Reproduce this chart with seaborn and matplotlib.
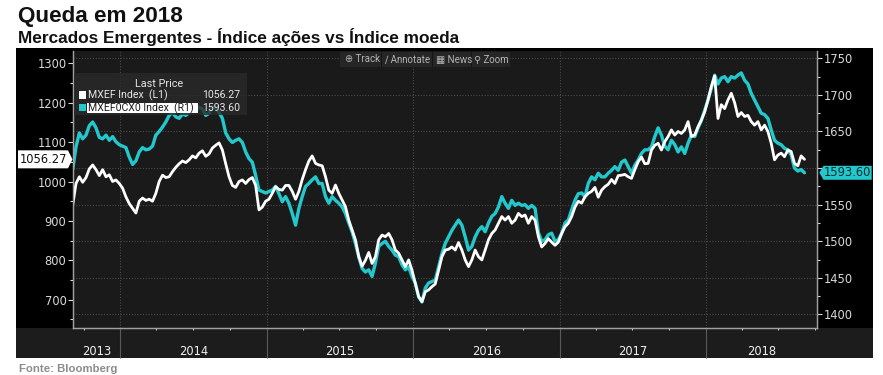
import pandas as pd
import numpy as np
import matplotlib.pyplot as plt
import matplotlib.dates as mdates
import matplotlib.ticker as mticker
import matplotlib.transforms as mtransforms
from matplotlib.patches import Rectangle, Polygon
import seaborn as sns

# MXEF Index (left axis), weekly-ish, Sep 2013 -> Sep 2018
mxef = [940, 995, 1012, 998, 1010, 1032, 1042, 1030, 1015, 1030,
        1012, 1017, 1000, 1004, 995, 983, 961, 944, 932, 920,
        950, 958, 952, 955, 950, 970, 1000, 1016, 1010, 1012,
        1025, 1036, 1045, 1052, 1048, 1055, 1065, 1060, 1072, 1078,
        1064, 1070, 1085, 1092, 1098, 1080, 1045, 1012, 990, 985,
        1000, 1004, 995, 1005, 1010, 990,
        928, 935, 950, 955, 970, 987, 980, 978, 990, 990,
        975, 955, 975, 1005, 1030, 1052, 1065, 1046, 1042, 1040,
        1012, 978, 970, 991, 970, 953, 936, 902, 877, 852,
        809, 785, 800, 820, 792, 809, 852, 864, 860, 868,
        852, 826, 818, 801, 784, 801, 775, 742, 708, 695,
        720, 725, 733, 740, 775, 809, 826, 828, 834, 826,
        845, 826, 801, 784, 801, 826, 809, 801, 826, 852,
        868, 877, 894, 911, 902, 911, 894, 902, 919, 911,
        915, 894, 911, 902, 860, 834, 843, 855, 846, 838,
        846, 868, 885, 894, 911, 935, 950, 945, 961, 970,
        975, 985, 960, 978, 987, 993, 1005, 995, 1015, 1016,
        1018, 1012, 1008, 1030, 1050, 1062, 1045, 1046, 1080, 1092,
        1097, 1080, 1101, 1114, 1131, 1118, 1127, 1122, 1131, 1152,
        1114, 1118, 1139, 1156, 1177, 1207, 1241, 1268, 1160, 1195,
        1185, 1207, 1224, 1200, 1165, 1175, 1165, 1168, 1152, 1143,
        1152, 1131, 1143, 1127, 1097, 1055, 1067, 1072, 1063, 1080,
        1076, 1046, 1040, 1065, 1056.27]

# MXEF0CX0 Index (right axis)
mxef_fx = [1598, 1629, 1648, 1640, 1645, 1658, 1663, 1655, 1642, 1640,
           1645, 1638, 1643, 1636, 1632, 1630, 1628, 1615, 1605, 1610,
           1622, 1628, 1625, 1626, 1630, 1645, 1650, 1656, 1663, 1672,
           1676, 1670, 1668, 1674, 1672, 1676, 1682, 1680, 1683, 1681,
           1672, 1675, 1684, 1682, 1676, 1668, 1648, 1640, 1635, 1638,
           1640, 1635, 1622, 1613, 1608, 1590,
           1570, 1568, 1566, 1568, 1570, 1575, 1565, 1554, 1561, 1552,
           1538, 1522, 1545, 1561, 1575, 1579, 1584, 1588, 1579, 1579,
           1561, 1552, 1561, 1556, 1552, 1547, 1538, 1525, 1513, 1497,
           1479, 1463, 1458, 1461, 1452, 1470, 1493, 1497, 1500, 1493,
           1488, 1481, 1479, 1468, 1461, 1465, 1452, 1443, 1424, 1417,
           1436, 1443, 1445, 1447, 1465, 1483, 1497, 1506, 1515, 1522,
           1529, 1522, 1506, 1488, 1493, 1506, 1515, 1520, 1513, 1525,
           1534, 1538, 1547, 1561, 1552, 1545, 1556, 1549, 1552, 1549,
           1550, 1545, 1549, 1545, 1512, 1500, 1502, 1509, 1511, 1500,
           1502, 1511, 1525, 1529, 1543, 1556, 1565, 1566, 1561, 1579,
           1588, 1584, 1593, 1588, 1588, 1593, 1597, 1602, 1597, 1608,
           1611, 1602, 1593, 1604, 1611, 1620, 1625, 1625, 1629, 1643,
           1655, 1645, 1630, 1625, 1638, 1632, 1622, 1629, 1620, 1634,
           1645, 1643, 1655, 1665, 1679, 1693, 1709, 1727, 1715, 1723,
           1725, 1718, 1725, 1723, 1727, 1730, 1720, 1715, 1702, 1693,
           1684, 1675, 1673, 1668, 1652, 1638, 1634, 1632, 1627, 1625,
           1618, 1600, 1596, 1598, 1593.60]

years = [2013, 2014, 2015, 2016, 2017, 2018]
left_ticks = [700, 800, 900, 1000, 1100, 1200, 1300]
right_ticks = [1400, 1450, 1500, 1550, 1600, 1650, 1700, 1750]
right_labels = ['1400', '1450', '1500', '1550', '', '1650', '1700', '1750']

start, end = '2013-09-04', '2018-09-04'
df_l = pd.DataFrame({'date': pd.date_range(start, end, periods=len(mxef)), 'value': mxef})
df_r = pd.DataFrame({'date': pd.date_range(start, end, periods=len(mxef_fx)), 'value': mxef_fx})

sns.set_style("ticks")
plt.rcParams['font.family'] = ['DejaVu Sans']

CYAN = '#22c8cc'
GRID = '#4a4a4a'
TXT = '#e6e6e6'
NARROW = ['Roboto', 'DejaVu Sans']
W, H = 883, 375
fig = plt.figure(figsize=(W / 100, H / 100), dpi=100)
fig.patch.set_facecolor('white')


def fx(px):
    return px / W


def fy(py):
    return 1 - py / H


def box(x0, y0, x1, y1, color, z, alpha=1.0):
    fig.add_artist(Rectangle((fx(x0), fy(y1)), (x1 - x0) / W, (y1 - y0) / H,
                             transform=fig.transFigure, color=color, zorder=z,
                             alpha=alpha, lw=0))


# black terminal panel and the year band
box(16, 47.7, 872.7, 358.3, 'black', -2)
box(16, 328.3, 872.7, 358.3, '#1c1c1c', -1)

ax = fig.add_axes([fx(72.7), fy(328.3), (817.3 - 72.7) / W, (328.3 - 50.7) / H])
ax2 = ax.twinx()
ax2.patch.set_visible(True)
ax2.set_facecolor('#1a1a1a')
ax.set_zorder(ax2.get_zorder() + 1)
ax.patch.set_visible(False)

sns.lineplot(data=df_r, x='date', y='value', ax=ax2, color=CYAN, lw=2.4)
sns.lineplot(data=df_l, x='date', y='value', ax=ax, color='white', lw=2.0)

xmin, xmax = pd.Timestamp('2013-09-04'), pd.Timestamp('2018-10-06')
ax.set_xlim(xmin, xmax)
ax.set_ylim(627.4, 1332.0)
ax2.set_ylim(1381.1, 1760.4)
for a in (ax, ax2):
    a.set_xlabel('')
    a.set_ylabel('')
    a.spines['top'].set_visible(False)
    for s in ('left', 'right', 'bottom'):
        a.spines[s].set_color('#a0a0a0')
        a.spines[s].set_linewidth(0.9)

ax.set_yticks(left_ticks)
ax.yaxis.set_minor_locator(mticker.MultipleLocator(50))
ax.tick_params(axis='y', which='both', colors='#d8d8d8', labelsize=8.3, pad=1, width=0.8)
ax.tick_params(axis='y', which='major', length=3.5)
ax.tick_params(axis='y', which='minor', length=2)

ax2.set_yticks(right_ticks)
ax2.set_yticklabels(right_labels)
ax2.yaxis.set_minor_locator(mticker.MultipleLocator(25))
ax2.tick_params(axis='y', which='both', colors='#d8d8d8', labelsize=8.3, pad=1, width=0.8)
ax2.tick_params(axis='y', which='major', length=3.5)
ax2.tick_params(axis='y', which='minor', length=2)
ax2.grid(axis='y', which='major', color=GRID, ls=(0, (1, 1.5)), lw=0.8)

ax.xaxis.set_major_locator(mdates.YearLocator())
ax.xaxis.set_minor_locator(mdates.MonthLocator(bymonth=[1, 4, 7, 10]))
ax.xaxis.set_major_formatter(mticker.NullFormatter())
ax.tick_params(axis='x', which='major', length=21.6, color='#5a5a5a', width=0.8)
ax.tick_params(axis='x', which='minor', length=1.5, color='#cccccc', width=0.8)

# year gridlines and centred year labels in the band
blend = mtransforms.blended_transform_factory(ax.transData, ax.transAxes)
for y in years:
    y0 = max(xmin, pd.Timestamp(f'{y}-01-01'))
    y1 = min(xmax, pd.Timestamp(f'{y + 1}-01-01'))
    if y0 > xmin:
        ax2.axvline(y0, color=GRID, ls=(0, (1, 1.5)), lw=0.8, zorder=0.5)
    ax.text(y0 + (y1 - y0) / 2, -0.0818, str(y), transform=blend,
            ha='center', va='center', color='#f0f0f0', fontsize=8.3)

# legend box (Last Price)
box(73.5, 73, 246.7, 115, '#2a2a2a', 2, alpha=0.8)
fig.text(fx(159), fy(84), 'Last Price', ha='center', va='center', color=TXT,
         fontsize=7.8, family=NARROW, zorder=3)
box(79, 91.5, 86, 98.5, 'white', 3)
fig.text(fx(88), fy(95.5), 'MXEF Index  (L1)', ha='left', va='center', color=TXT,
         fontsize=7.6, family=NARROW, zorder=3)
fig.text(fx(240), fy(95.5), f'{mxef[-1]:.2f}', ha='right', va='center', color=TXT,
         fontsize=7.6, family=NARROW, zorder=3)
box(79, 104, 86, 111, CYAN, 3)
box(87, 102.7, 198, 112.7, 'white', 3)
fig.text(fx(88), fy(107.8), 'MXEF0CX0 Index  (R1)', ha='left', va='center', color='#1a1a1a',
         fontsize=7.6, family=NARROW, zorder=4)
fig.text(fx(240), fy(107.8), f'{mxef_fx[-1]:.2f}', ha='right', va='center', color=TXT,
         fontsize=7.6, family=NARROW, zorder=4)

# last value tags on both axes
last_date = mdates.date2num(df_l['date'].iloc[-1])
yl = H - ax.transData.transform((last_date, mxef[-1]))[1]
yr = H - ax2.transData.transform((last_date, mxef_fx[-1]))[1]
tag_l = [(18, yl - 9), (68, yl - 9), (72.5, yl), (68, yl + 9), (18, yl + 9)]
fig.add_artist(Polygon([(fx(a), fy(b)) for a, b in tag_l], closed=True, transform=fig.transFigure,
                       facecolor='white', edgecolor='none', zorder=3))
fig.text(fx(43.5), fy(yl), f'{mxef[-1]:.2f}', ha='center', va='center', color='#111111',
         fontsize=8.3, zorder=4)
tag_r = [(819.3, yr), (823.5, yr - 7), (871.7, yr - 7), (871.7, yr + 7), (823.5, yr + 7)]
fig.add_artist(Polygon([(fx(a), fy(b)) for a, b in tag_r], closed=True, transform=fig.transFigure,
                       facecolor=CYAN, edgecolor='none', zorder=3))
fig.text(fx(847.5), fy(yr), f'{mxef_fx[-1]:.2f}', ha='center', va='center', color='#0e2b2c',
         fontsize=8.3, zorder=4)

# toolbar
box(340, 51.7, 510, 66.7, '#262626', 2)
for xs in (380.5, 432, 470.5):
    box(xs, 51.7, xs + 1, 66.7, '#151515', 3)
for xt, label in [(345, '⊕ Track'), (385, '∕ Annotate'), (436, '▦ News'), (474, '⚲ Zoom')]:
    fig.text(fx(xt), fy(59.5), label, ha='left', va='center', color='#b5b5b5',
             fontsize=7, family=NARROW, zorder=4)

# titles and source
fig.text(fx(18), fy(21.7), 'Queda em 2018', family='Liberation Sans', weight='bold',
         fontsize=16.2, color='#111111', va='baseline')
fig.text(fx(18), fy(42.7), 'Mercados Emergentes - Índice ações vs Índice moeda',
         family='Liberation Sans', weight='bold', fontsize=12.4, color='#111111', va='baseline')
fig.text(fx(19), fy(372), 'Fonte: Bloomberg', family='Liberation Sans', weight='bold',
         fontsize=8.2, color='#8c8c8c', va='baseline')

plt.savefig('out.png', dpi=100)
plt.close()
